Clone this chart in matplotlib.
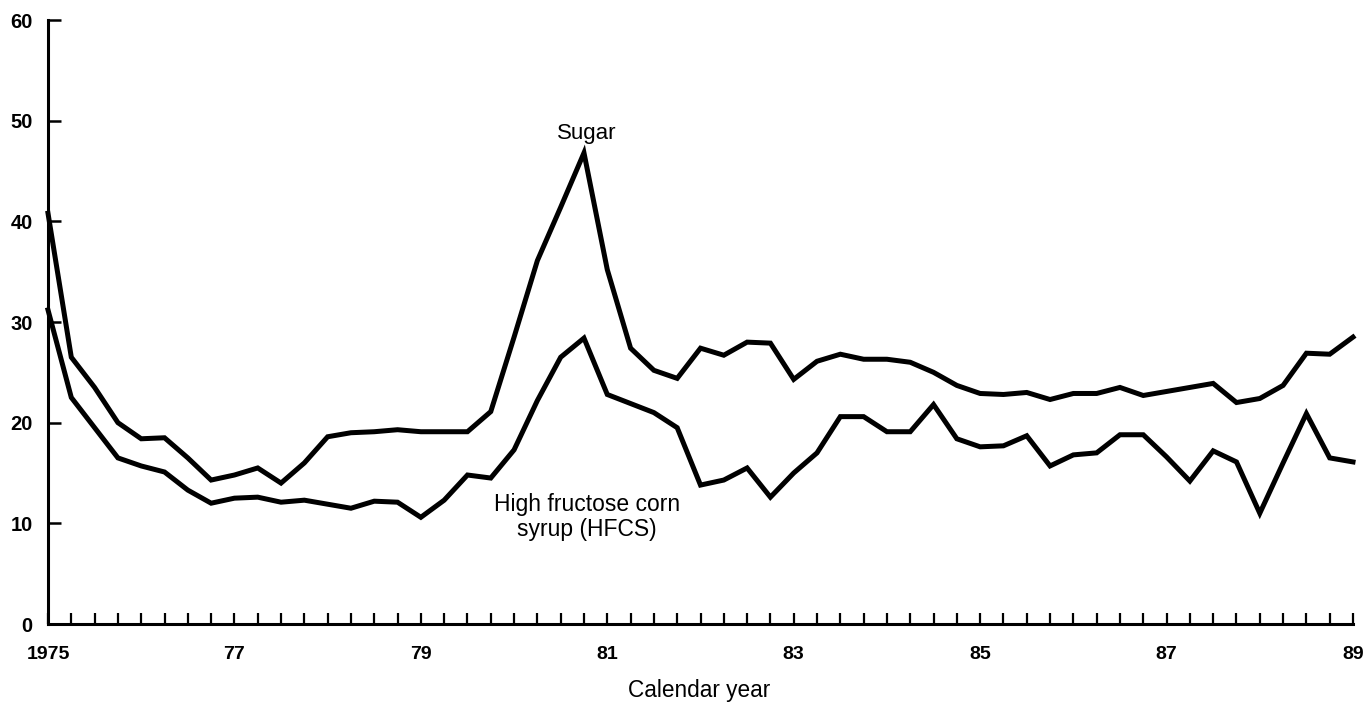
import matplotlib
matplotlib.use("Agg")
import matplotlib.pyplot as plt
import numpy as np

plt.rcParams['font.family'] = ['Liberation Sans', 'DejaVu Sans']

# Quarterly observations, 1975 Q1 .. 1989 Q1
start_year = 1975
periods_per_year = 4

sugar = [40.8, 26.5, 23.5, 20.0, 18.4, 18.5, 16.5, 14.3, 14.8, 15.5,
         14.0, 16.0, 18.6, 19.0, 19.1, 19.3, 19.1, 19.1, 19.1, 21.1,
         28.5, 36.1, 41.4, 46.8, 35.2, 27.4, 25.2, 24.4, 27.4, 26.7,
         28.0, 27.9, 24.3, 26.1, 26.8, 26.3, 26.3, 26.0, 25.0, 23.7,
         22.9, 22.8, 23.0, 22.3, 22.9, 22.9, 23.5, 22.7, 23.1, 23.5,
         23.9, 22.0, 22.4, 23.7, 26.9, 26.8, 28.5]

hfcs = [31.2, 22.5, 19.5, 16.5, 15.7, 15.1, 13.3, 12.0, 12.5, 12.6,
        12.1, 12.3, 11.9, 11.5, 12.2, 12.1, 10.6, 12.3, 14.8, 14.5,
        17.3, 22.2, 26.5, 28.4, 22.8, 21.9, 21.0, 19.5, 13.8, 14.3,
        15.5, 12.6, 15.0, 17.0, 20.6, 20.6, 19.1, 19.1, 21.8, 18.4,
        17.6, 17.7, 18.7, 15.7, 16.8, 17.0, 18.8, 18.8, 16.6, 14.2,
        17.2, 16.1, 11.0, 16.0, 20.9, 16.5, 16.1]

x_tick_years = [1975, 1977, 1979, 1981, 1983, 1985, 1987, 1989]
x_tick_labels = ['1975', '77', '79', '81', '83', '85', '87', '89']
y_ticks = [0, 10, 20, 30, 40, 50, 60]
y_tick_labels = ['0', '10', '20', '30', '40', '50', '60']

x = start_year + np.arange(len(sugar)) / periods_per_year

fig = plt.figure(figsize=(13.67, 7.03), dpi=100)
ax = fig.add_axes([48/1367, 79/703, (1353-48)/1367, (624-20)/703])

ax.plot(x, sugar, color='black', lw=3.6, solid_joinstyle='miter', clip_on=False)
ax.plot(x, hfcs, color='black', lw=3.6, solid_joinstyle='miter', clip_on=False)

ax.set_xlim(1975, 1989)
ax.set_ylim(0, 60)

for s in ['top', 'right']:
    ax.spines[s].set_visible(False)
for s in ['left', 'bottom']:
    ax.spines[s].set_linewidth(2.2)

ax.set_xticks(x_tick_years)
ax.set_xticklabels(x_tick_labels, fontsize=14, fontweight='bold')
ax.set_xticks(x, minor=True)
ax.set_yticks(y_ticks)
ax.set_yticklabels(y_tick_labels, fontsize=14.5, fontweight='bold')

ax.tick_params(axis='x', which='both', direction='in', length=8, width=1.6, pad=16)
ax.tick_params(axis='y', which='major', direction='in', length=9, width=1.8, pad=11)

ax.text(1980.78, 48.7, 'Sugar', ha='center', va='center', fontsize=16)
ax.text(1980.78, 10.6, 'High fructose corn\nsyrup (HFCS)', ha='center', va='center',
        fontsize=16.5, linespacing=1.1)

fig.text(699/1367, 1 - 690/703, 'Calendar year', ha='center', va='center', fontsize=16.3)

fig.savefig('out.png', dpi=100)
